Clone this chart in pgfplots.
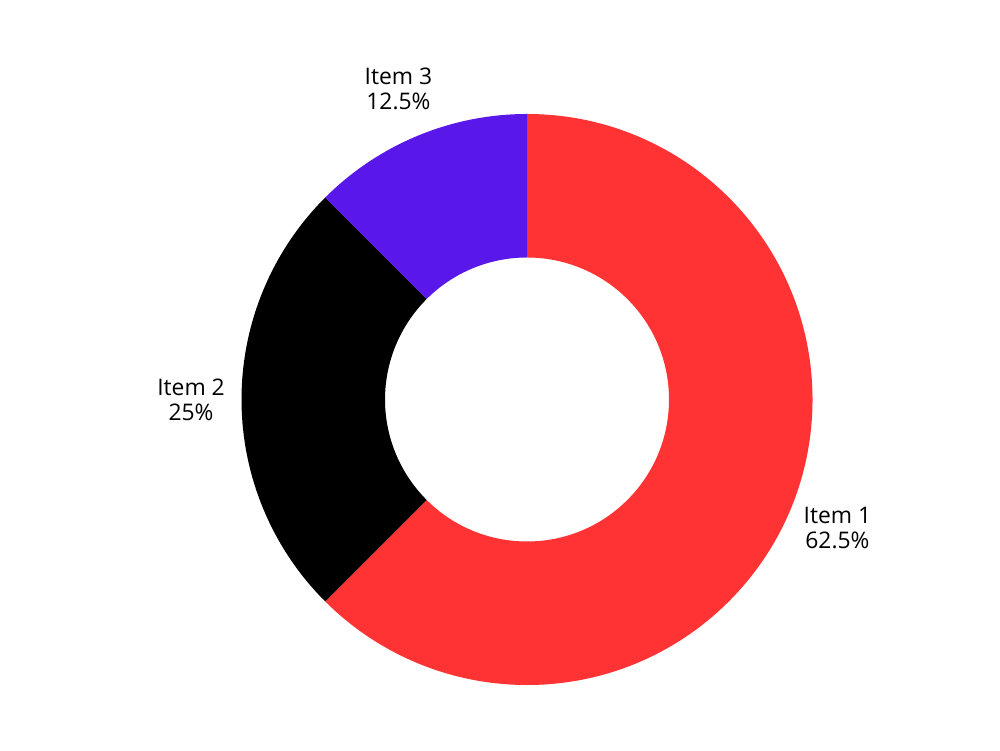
\documentclass[border=0pt]{standalone}
\usepackage{pgfplots}
\pgfplotsset{compat=1.18}
\usepackage{fontspec}
\setmainfont{Open Sans}
\definecolor{itemA}{HTML}{FF3333}
\definecolor{itemB}{HTML}{000000}
\definecolor{itemC}{HTML}{5A17E9}
% data (percent)
\def\vA{62.5}\def\vB{25}\def\vC{12.5}
\pgfmathsetmacro\sA{90}
\pgfmathsetmacro\eA{\sA-3.6*\vA}
\pgfmathsetmacro\eB{\eA-3.6*\vB}
\pgfmathsetmacro\eC{\eB-3.6*\vC}
\pgfmathsetmacro\mA{(\sA+\eA)/2}
\pgfmathsetmacro\mB{(\eA+\eB)/2}
\pgfmathsetmacro\mC{(\eB+\eC)/2}
\begin{document}
\begin{tikzpicture}
\begin{axis}[
  x=0.2mm, y=0.2mm,
  xmin=0, xmax=1000, ymin=0, ymax=750,
  scale only axis,
  axis line style={draw=none},
  ticks=none,
  clip=false,
]
\def\R{57.1mm}\def\r{28.4mm}\def\L{67.2mm}
\fill[itemA] (axis cs:527,350.5) ++(\sA:\R) arc[start angle=\sA,end angle=\eA,radius=\R]
  -- ([shift={(\eA:\r)}]axis cs:527,350.5) arc[start angle=\eA,end angle=\sA,radius=\r] -- cycle;
\fill[itemB] (axis cs:527,350.5) ++(\eA:\R) arc[start angle=\eA,end angle=\eB,radius=\R]
  -- ([shift={(\eB:\r)}]axis cs:527,350.5) arc[start angle=\eB,end angle=\eA,radius=\r] -- cycle;
\fill[itemC] (axis cs:527,350.5) ++(\eB:\R) arc[start angle=\eB,end angle=\eC,radius=\R]
  -- ([shift={(\eC:\r)}]axis cs:527,350.5) arc[start angle=\eC,end angle=\eB,radius=\r] -- cycle;
\node[align=center,font=\fontsize{13}{14.3}\selectfont] at ([shift={(\mA:\L)}]axis cs:527,350.5) {Item 1\\62.5\%};
\node[align=center,font=\fontsize{13}{14.3}\selectfont] at ([shift={(\mB:\L)}]axis cs:527,350.5) {Item 2\\25\%};
\node[align=center,font=\fontsize{13}{14.3}\selectfont] at ([shift={(\mC:\L)}]axis cs:527,350.5) {Item 3\\12.5\%};
\end{axis}
\end{tikzpicture}
\end{document}
